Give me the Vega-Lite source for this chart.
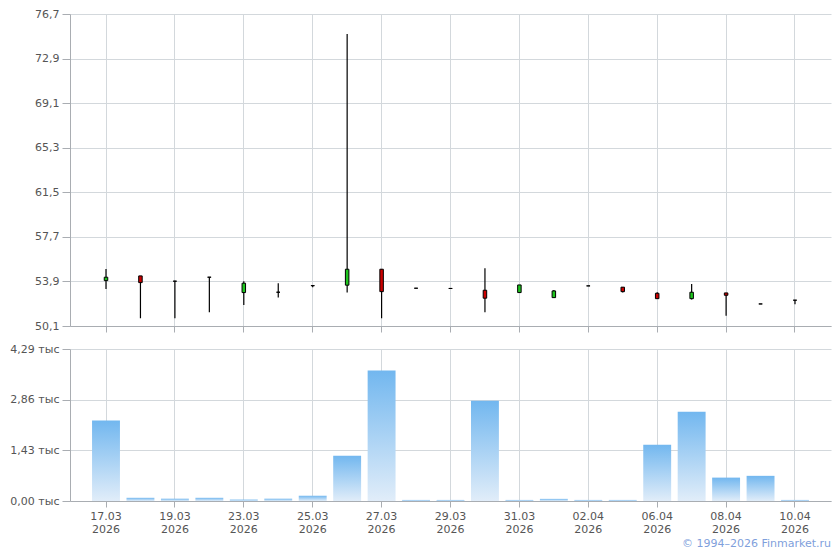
{
  "$schema": "https://vega.github.io/schema/vega-lite/v6.json",
  "padding": {"left": 9, "top": 8, "right": 9, "bottom": 2},
  "spacing": 10,
  "config": {
    "view": {"stroke": null},
    "font": "DejaVu Sans",
    "axis": {
      "labelFont": "DejaVu Sans",
      "labelFontSize": 11,
      "labelColor": "#555555",
      "gridColor": "#d3d8dc",
      "gridWidth": 1,
      "domainColor": "#a9adb2",
      "tickColor": "#a9adb2",
      "title": null
    }
  },
  "title": {
    "text": "© 1994–2026 Finmarket.ru",
    "orient": "bottom",
    "anchor": "end",
    "color": "#7f9fdc",
    "fontSize": 11,
    "fontWeight": "normal",
    "font": "DejaVu Sans",
    "offset": 4
  },
  "resolve": {"scale": {"y": "independent"}},
  "datasets": {
    "d": [
      {"date": "2026-03-17", "open": 53.97, "high": 54.97, "low": 53.26, "close": 54.26, "vol": 2.27},
      {"date": "2026-03-18", "open": 54.37, "high": 54.37, "low": 50.76, "close": 53.80, "vol": 0.09},
      {"date": "2026-03-19", "open": 53.92, "high": 53.95, "low": 50.76, "close": 53.92, "vol": 0.065},
      {"date": "2026-03-20", "open": 54.26, "high": 54.26, "low": 51.27, "close": 54.26, "vol": 0.09},
      {"date": "2026-03-23", "open": 52.95, "high": 53.92, "low": 51.90, "close": 53.75, "vol": 0.04},
      {"date": "2026-03-24", "open": 52.98, "high": 53.75, "low": 52.52, "close": 52.98, "vol": 0.065},
      {"date": "2026-03-25", "open": 53.54, "high": 53.60, "low": 53.40, "close": 53.54, "vol": 0.15},
      {"date": "2026-03-26", "open": 53.58, "high": 74.99, "low": 52.95, "close": 54.94, "vol": 1.28},
      {"date": "2026-03-27", "open": 54.94, "high": 54.94, "low": 50.76, "close": 53.03, "vol": 3.68},
      {"date": "2026-03-28", "open": 53.32, "high": 53.32, "low": 53.32, "close": 53.32, "vol": 0.03},
      {"date": "2026-03-29", "open": 53.30, "high": 53.30, "low": 53.30, "close": 53.30, "vol": 0.03},
      {"date": "2026-03-30", "open": 53.15, "high": 55.03, "low": 51.27, "close": 52.47, "vol": 2.83},
      {"date": "2026-03-31", "open": 52.95, "high": 53.60, "low": 52.95, "close": 53.60, "vol": 0.03},
      {"date": "2026-04-01", "open": 52.52, "high": 53.17, "low": 52.52, "close": 53.09, "vol": 0.06},
      {"date": "2026-04-02", "open": 53.52, "high": 53.52, "low": 53.52, "close": 53.52, "vol": 0.03},
      {"date": "2026-04-03", "open": 53.41, "high": 53.41, "low": 52.95, "close": 53.03, "vol": 0.03},
      {"date": "2026-04-06", "open": 52.89, "high": 52.98, "low": 52.43, "close": 52.43, "vol": 1.59},
      {"date": "2026-04-07", "open": 52.43, "high": 53.69, "low": 52.35, "close": 52.98, "vol": 2.52},
      {"date": "2026-04-08", "open": 52.92, "high": 52.92, "low": 50.98, "close": 52.72, "vol": 0.66},
      {"date": "2026-04-09", "open": 51.98, "high": 51.98, "low": 51.98, "close": 51.98, "vol": 0.71},
      {"date": "2026-04-10", "open": 52.30, "high": 52.30, "low": 51.96, "close": 52.30, "vol": 0.03}
    ]
  },
  "vconcat": [
    {
      "width": 761,
      "height": 312,
      "data": {"name": "d"},
      "encoding": {
        "x": {
          "field": "date",
          "type": "ordinal",
          "scale": {"paddingInner": 0.19, "paddingOuter": 0.64},
          "axis": {
            "values": ["2026-03-17","2026-03-19","2026-03-23","2026-03-25","2026-03-27","2026-03-29","2026-03-31","2026-04-02","2026-04-06","2026-04-08","2026-04-10"],
            "labels": false,
            "grid": true,
            "bandPosition": 0.5,
            "tickSize": 6
          }
        }
      },
      "layer": [
        {
          "mark": {"type": "rule", "color": "#000000", "strokeWidth": 1.2},
          "encoding": {
            "y": {
              "field": "low",
              "type": "quantitative",
              "scale": {"domain": [50.1, 76.7], "nice": false, "zero": false},
              "axis": {
                "values": [50.1, 53.9, 57.7, 61.5, 65.3, 69.1, 72.9, 76.7],
                "labelExpr": "replace(format(datum.value, '.1f'), '.', ',')",
                "grid": true,
                "tickSize": 8,
                "labelPadding": 3,
                "minExtent": 54,
                "maxExtent": 54
              }
            },
            "y2": {"field": "high"}
          }
        },
        {
          "mark": {"type": "bar", "size": 3.5, "stroke": "#000000", "strokeWidth": 1},
          "encoding": {
            "y": {"field": "open", "type": "quantitative"},
            "y2": {"field": "close"},
            "fill": {"condition": {"test": "datum.close > datum.open", "value": "#1ec51e"}, "value": "#cc0000"}
          }
        }
      ]
    },
    {
      "width": 761,
      "height": 152,
      "data": {"name": "d"},
      "mark": {
        "type": "bar",
        "color": {
          "gradient": "linear",
          "x1": 0, "y1": 0, "x2": 0, "y2": 1,
          "stops": [
            {"offset": 0, "color": "#72b7ef"},
            {"offset": 1, "color": "#e1edf9"}
          ]
        }
      },
      "encoding": {
        "x": {
          "field": "date",
          "type": "ordinal",
          "scale": {"paddingInner": 0.19, "paddingOuter": 0.64},
          "axis": {
            "values": ["2026-03-17","2026-03-19","2026-03-23","2026-03-25","2026-03-27","2026-03-29","2026-03-31","2026-04-02","2026-04-06","2026-04-08","2026-04-10"],
            "labelExpr": "[substring(datum.value, 8, 10) + '.' + substring(datum.value, 5, 7), substring(datum.value, 0, 4)]",
            "labelAngle": 0,
            "labelLineHeight": 13,
            "labelPadding": 3,
            "grid": true,
            "bandPosition": 0.5,
            "tickSize": 6
          }
        },
        "y": {
          "field": "vol",
          "type": "quantitative",
          "scale": {"domain": [0, 4.29], "nice": false},
          "axis": {
            "values": [0, 1.43, 2.86, 4.29],
            "labelExpr": "replace(format(datum.value, '.2f'), '.', ',') + ' тыс'",
            "grid": true,
            "tickSize": 8,
            "labelPadding": 3,
            "minExtent": 54,
            "maxExtent": 54
          }
        }
      }
    }
  ]
}
